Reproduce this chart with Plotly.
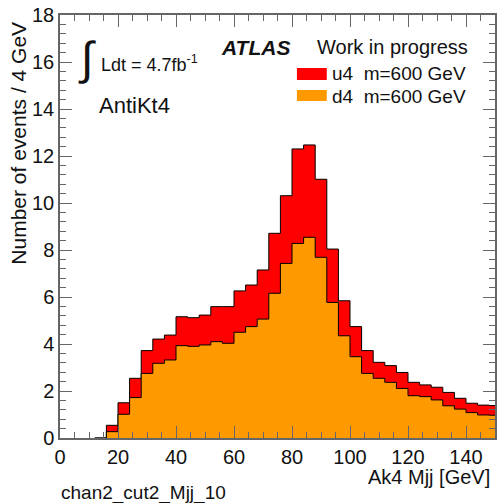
import numpy as np
import plotly.graph_objects as go

# 4 GeV bins, lower edges from 12 to 148 GeV
bin_low = list(range(12, 152, 4))
bin_width = 4

# u4 m=600 GeV (red, drawn behind), d4 m=600 GeV (orange, in front)
u4 = [0.0, 0.54, 1.50, 2.54, 3.72, 4.21, 4.38, 5.16, 5.12, 5.23, 5.59, 5.59,
      6.26, 6.51, 7.15, 8.71, 10.31, 12.30, 12.47, 11.01, 8.04, 5.84, 4.74,
      3.72, 3.22, 3.08, 2.79, 2.37, 2.26, 2.16, 1.94, 1.69, 1.48, 1.40, 1.38]
d4 = [0.0, 0.27, 1.01, 1.72, 2.75, 3.18, 3.32, 3.93, 3.90, 3.96, 4.10, 4.03,
      4.50, 4.74, 5.06, 6.16, 7.43, 8.28, 8.54, 7.69, 5.77, 4.35, 3.46,
      2.75, 2.54, 2.37, 2.11, 1.80, 1.76, 1.62, 1.37, 1.23, 1.08, 0.98, 0.97]

RED = "#ff0000"
ORANGE = "#ff9900"
FONT = "Liberation Sans, Arial, sans-serif"
AXIS_COL = "#666666"


def steps(values):
    # step outline: one point per lower edge plus the last upper edge
    x = bin_low + [bin_low[-1] + bin_width]
    y = list(values) + [values[-1]]
    return x, y


fig = go.Figure()
for vals, col in [(u4, RED), (d4, ORANGE)]:
    sx, sy = steps(vals)
    fig.add_trace(go.Scatter(x=sx, y=sy, mode="lines", line_shape="hv",
                             line=dict(color="black", width=1),
                             fill="tozeroy", fillcolor=col, showlegend=False))


def px_x(p):
    return (p - 60) / 437


def px_y(p):
    return (438 - p) / 423


ann = [
    dict(text="∫", x=px_x(76), y=px_y(58), size=46),
    dict(text="Ldt = 4.7fb<sup>-1</sup>", x=px_x(99), y=px_y(63), size=18),
    dict(text="AntiKt4", x=px_x(97), y=px_y(106), size=22),
    dict(text="<b><i>ATLAS</i></b>", x=px_x(220), y=px_y(47), size=21),
    dict(text="Work in progress", x=px_x(316), y=px_y(47), size=20),
    dict(text="u4  m=600 GeV", x=px_x(331), y=px_y(73), size=19),
    dict(text="d4  m=600 GeV", x=px_x(331), y=px_y(96), size=19),
]
for a in ann:
    fig.add_annotation(text=a["text"], x=a["x"], y=a["y"], xref="paper", yref="paper",
                       xanchor="left", yanchor="middle", showarrow=False,
                       font=dict(family=FONT, size=a["size"], color="#111111"))

fig.add_annotation(text="Number of events / 4 GeV", textangle=-90,
                   x=px_x(18), y=px_y(20), xref="paper", yref="paper",
                   xanchor="center", yanchor="top", showarrow=False,
                   font=dict(family=FONT, size=21, color="#111111"))
fig.add_annotation(text="Ak4 Mjj [GeV]", x=px_x(494), y=px_y(477),
                   xref="paper", yref="paper", xanchor="right", yanchor="middle",
                   showarrow=False, font=dict(family=FONT, size=20, color="#111111"))
fig.add_annotation(text="chan2_cut2_Mjj_10", x=px_x(59), y=px_y(493),
                   xref="paper", yref="paper", xanchor="left", yanchor="middle",
                   showarrow=False, font=dict(family=FONT, size=19, color="#111111"))

# legend boxes
fig.add_shape(type="rect", xref="paper", yref="paper", x0=px_x(298), x1=px_x(328),
              y0=px_y(80), y1=px_y(68), fillcolor=RED, line_width=0)
fig.add_shape(type="rect", xref="paper", yref="paper", x0=px_x(298), x1=px_x(328),
              y0=px_y(101), y1=px_y(90), fillcolor=ORANGE, line_width=0)

fig.update_xaxes(range=[0, 150], dtick=20, tick0=0, ticks="inside", ticklen=12,
                 tickcolor=AXIS_COL, showline=True, linecolor=AXIS_COL, linewidth=1.5,
                 mirror="ticks", showgrid=False, zeroline=False,
                 minor=dict(dtick=5, ticks="inside", ticklen=6, tickcolor=AXIS_COL),
                 tickfont=dict(family=FONT, size=20, color="#111111"))
fig.update_yaxes(range=[0, 18], dtick=2, tick0=0, ticks="inside", ticklen=12,
                 tickcolor=AXIS_COL, showline=True, linecolor=AXIS_COL, linewidth=1.5,
                 mirror="ticks", showgrid=False, zeroline=False,
                 minor=dict(dtick=0.4, ticks="inside", ticklen=6, tickcolor=AXIS_COL),
                 tickfont=dict(family=FONT, size=20, color="#111111"))

fig.update_layout(width=498, height=503, plot_bgcolor="white", paper_bgcolor="white",
                  margin=dict(l=60, r=1, t=15, b=65), showlegend=False)

fig.write_html("out.html", config={"displayModeBar": False},
               post_script="document.body.style.margin='0';")
